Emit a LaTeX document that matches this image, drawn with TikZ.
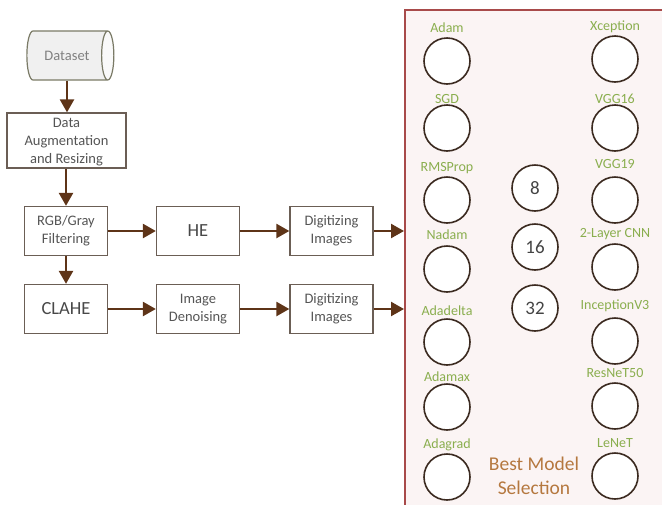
\documentclass[tikz,border=0pt]{standalone}
\usepackage{fontspec}
\setmainfont{Carlito}
\usetikzlibrary{arrows.meta,shapes.geometric}
\definecolor{boxc}{HTML}{6B5E55}
\definecolor{txtc}{HTML}{555555}
\definecolor{arrc}{HTML}{5E3418}
\definecolor{ringc}{HTML}{3B2A20}
\definecolor{labc}{HTML}{8AAE4E}
\definecolor{bestc}{HTML}{B5783F}
\definecolor{panelfill}{HTML}{FBF4F4}
\definecolor{panelc}{HTML}{A84A4A}
\definecolor{cylc}{HTML}{7A7A66}
\begin{document}
\begin{tikzpicture}[x=1pt,y=-1pt,
  pbox/.style={draw=boxc, line width=1.3pt, fill=white, minimum width=83pt, minimum height=49pt,
    inner sep=0pt, align=center, font=\fontsize{14.5}{18}\selectfont, text=txtc},
  big/.style={font=\fontsize{18.5}{22}\selectfont, text=txtc!85!black},
  flow/.style={draw=arrc, line width=2.4pt, -{Triangle[length=13pt,width=14pt]}},
  ring/.style={circle, draw=ringc, line width=1.6pt, minimum size=46pt, inner sep=0pt, fill=white,
    font=\fontsize{19}{22}\selectfont, text=txtc!80!black},
  lab/.style={text=labc, inner sep=0pt, font=\fontsize{14}{16}\selectfont},
]
\useasboundingbox (0,0) rectangle (662,504);
\clip (0,0) rectangle (662,504);

% panel
\node[draw=panelc, line width=1.5pt, fill=panelfill, minimum width=275pt, minimum height=510pt,
  inner sep=0pt, anchor=north west] (panel) at (404,9) {};

% left flow
\node[cylinder, shape border rotate=0, aspect=1.3, draw=cylc, line width=1.2pt,
  cylinder uses custom fill, cylinder body fill=gray!12, cylinder end fill=gray!5,
  minimum height=87pt, minimum width=49pt, inner sep=0pt,
  font=\fontsize{14.5}{18}\selectfont, text=gray] (ds) at (67,55.5) {Dataset};
\node[pbox, minimum width=119pt, minimum height=55pt] (aug) at (66.5,140.5)
  {\raisebox{0pt}[12pt][0pt]{}Data\\Augmentation\\and Resizing};
\node[pbox] (rgb) at (66,231) {RGB/Gray\\Filtering};
\node[pbox, big] (he) at (198,231) {HE};
\node[pbox] (d1) at (331.5,231) {Digitizing\\Images};
\node[pbox, big] (clahe) at (66,309) {CLAHE};
\node[pbox] (den) at (198,309) {Image\\Denoising};
\node[pbox] (d2) at (331.5,309) {Digitizing\\Images};

\draw[flow] (ds.south) -- (aug.north -| ds.south);
\draw[flow] (aug.south -| rgb.north) -- (rgb.north);
\draw[flow] (rgb.south) -- (clahe.north);
\draw[flow] (rgb.east) -- (he.west);
\draw[flow] (he.east) -- (d1.west);
\draw[flow] (d1.east) -- (d1.east -| panel.west);
\draw[flow] (clahe.east) -- (den.west);
\draw[flow] (den.east) -- (d2.west);
\draw[flow] (d2.east) -- (d2.east -| panel.west);

% left column: optimizers
\node[ring] (adam) at (447,61) {};
\node[ring] (sgd) at (447,128) {};
\node[ring] (rms) at (447,200) {};
\node[ring] (nadam) at (447,269) {};
\node[ring] (adadelta) at (447,342) {};
\node[ring] (adamax) at (447,407) {};
\node[ring] (adagrad) at (447,477) {};
\node[lab] (ladam) at (447,28) {Adam};
\node[lab] (lsgd) at (447,99) {SGD};
\node[lab] (lrms) at (447,168) {RMSProp};
\node[lab] (lnadam) at (447,235) {Nadam};
\node[lab] (ladadelta) at (447,311) {Adadelta};
\node[lab] (ladamax) at (447,377) {Adamax};
\node[lab] (ladagrad) at (447,445) {Adagrad};

% right column: models
\node[ring] (xc) at (615,59) {};
\node[ring] (v16) at (615,128) {};
\node[ring] (v19) at (615,200) {};
\node[ring] (cnn) at (615,267) {};
\node[ring] (inc) at (615,341) {};
\node[ring] (res) at (615,406) {};
\node[ring] (le) at (615,476) {};
\node[lab] (lxc) at (615,26.5) {Xception};
\node[lab] (lv16) at (615,99) {VGG16};
\node[lab] (lv19) at (615,164) {VGG19};
\node[lab] (lcnn) at (615,234) {2-Layer CNN};
\node[lab] (linc) at (615,306) {InceptionV3};
\node[lab] (lres) at (615,373) {ResNeT50};
\node[lab] (lle) at (615,443) {LeNeT};

% middle: batch sizes
\node[ring] (b8) at (535,188) {8};
\node[ring] (b16) at (535,247) {16};
\node[ring] (b32) at (535,308) {32};

\node[text=bestc, align=center, inner sep=0pt, font=\fontsize{19.5}{24}\selectfont] (best) at (534,476)
  {Best Model\\Selection};
\end{tikzpicture}
\end{document}
